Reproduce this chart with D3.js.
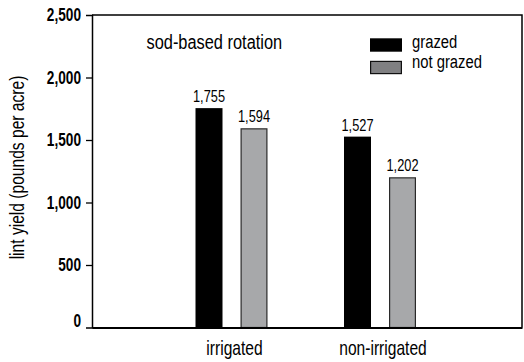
<!DOCTYPE html>
<html>
<head>
<meta charset="utf-8">
<script src="https://cdn.jsdelivr.net/npm/d3@7"></script>
<style>
  html, body { margin: 0; padding: 0; background: #fff; }
  svg { display: block; }
  text { font-family: "Liberation Sans", Arial, sans-serif; fill: #000; }
</style>
</head>
<body>
<div id="chart"></div>
<script>
const categories = ["irrigated", "non-irrigated"];
const seriesNames = ["grazed", "not grazed"];
const grazed = [1755, 1527];
const notGrazed = [1594, 1202];
const yTicks = [0, 500, 1000, 1500, 2000, 2500];
const title = "sod-based rotation";
const yTitle = "lint yield (pounds per acre)";

const W = 524, H = 362;
const NARROW = 0.78;
const plot = { left: 92, right: 522, top: 15, bottom: 327.5 };
const barFill = { "grazed": "#000000", "not grazed": "#a7a8aa" };
const legendFill = { "grazed": "#000000", "not grazed": "#808082" };

const svg = d3.select("#chart").append("svg").attr("width", W).attr("height", H);

const y = d3.scaleLinear().domain([0, 2500]).range([plot.bottom, plot.top]);
const x0 = d3.scaleBand().domain(categories).range([157.25, 454.25]).padding(0);
const x1 = d3.scaleBand().domain(seriesNames).range([-36, 36]).paddingInner(0.4).paddingOuter(0);

const data = categories.map((c, i) => ({
  cat: c,
  values: [{ s: "grazed", v: grazed[i] }, { s: "not grazed", v: notGrazed[i] }]
}));

// helper: place a condensed text at (x,y)
function place(sel, fx, fy, extra) {
  sel.attr("transform", (d, i) => `translate(${fx(d, i)},${fy(d, i)})${extra || ""} scale(${NARROW},1)`);
}

// bars
const groups = svg.append("g").selectAll("g").data(data).join("g")
  .attr("transform", d => `translate(${x0(d.cat) + x0.bandwidth() / 2},0)`);

groups.selectAll("rect").data(d => d.values).join("rect")
  .attr("x", d => x1(d.s) + (d.s === "not grazed" ? 0.6 : 0))
  .attr("y", d => y(d.v) + (d.s === "not grazed" ? 0.6 : 0))
  .attr("width", d => x1.bandwidth() - (d.s === "not grazed" ? 1.2 : 0))
  .attr("height", d => y(0) - y(d.v) - (d.s === "not grazed" ? 0.6 : 0))
  .attr("fill", d => barFill[d.s])
  .attr("stroke", d => d.s === "not grazed" ? "#2a2a2a" : "none")
  .attr("stroke-width", 1.2);

groups.selectAll("text.val").data(d => d.values).join("text")
  .attr("class", "val")
  .attr("text-anchor", "middle")
  .style("font-size", "16.4px")
  .call(place, d => x1(d.s) + x1.bandwidth() / 2, d => y(d.v) - 6)
  .text(d => d3.format(",")(d.v));

// frame (top & right)
svg.append("path")
  .attr("d", `M${plot.left},${plot.top}H${plot.right}V${plot.bottom}`)
  .attr("fill", "none").attr("stroke", "#000").attr("stroke-width", 1.5);

// y axis
const yAxis = svg.append("g")
  .attr("transform", `translate(${plot.left},0)`)
  .call(d3.axisLeft(y).tickValues(yTicks).tickFormat(d3.format(",")).tickSize(6).tickPadding(5));
yAxis.select(".domain").attr("stroke-width", 1.5);
yAxis.selectAll(".tick line").attr("stroke-width", 1.3)
  .filter(d => d === 0 || d === 2500).remove();
yAxis.selectAll(".tick text")
  .attr("fill", "#000")
  .attr("x", null)
  .attr("dy", null)
  .style("font-size", "17.5px")
  .style("font-weight", "bold")
  .call(place, () => -11, d => (d === 0 ? -1.5 : 5.8));

// x axis baseline
const xAxis = svg.append("g")
  .attr("transform", `translate(0,${plot.bottom})`)
  .call(d3.axisBottom(d3.scaleLinear().domain([0, 1]).range([plot.left, plot.right])).tickValues([]).tickSizeOuter(0));
xAxis.select(".domain").attr("stroke-width", 2.2);

// category labels
svg.append("g").selectAll("text").data(categories).join("text")
  .attr("text-anchor", "middle")
  .style("font-size", "20px")
  .call(place, d => x0(d) + x0.bandwidth() / 2 + 3, () => 354.5)
  .text(d => d);

// y title
svg.append("text")
  .attr("text-anchor", "middle")
  .style("font-size", "20px")
  .call(place, () => 24, () => 167.5, " rotate(-90)")
  .text(yTitle);

// chart title
svg.append("text")
  .style("font-size", "21px")
  .call(place, () => 146.5, () => 48.7)
  .text(title);

// legend
const legend = svg.append("g").selectAll("g").data(seriesNames).join("g")
  .attr("transform", (d, i) => `translate(370,${38.3 + i * 22.5})`);
legend.append("rect")
  .attr("x", d => d === "not grazed" ? 0.6 : 0)
  .attr("y", d => d === "not grazed" ? 0.6 : 0)
  .attr("width", d => d === "not grazed" ? 30.8 : 32)
  .attr("height", d => d === "not grazed" ? 12.2 : 13.4)
  .attr("fill", d => legendFill[d])
  .attr("stroke", d => d === "not grazed" ? "#111" : "none")
  .attr("stroke-width", 1.2);
legend.append("text")
  .style("font-size", "19px")
  .call(place, () => 42, (d, i) => 10 - i * 2.5)
  .text(d => d);
</script>
</body>
</html>
